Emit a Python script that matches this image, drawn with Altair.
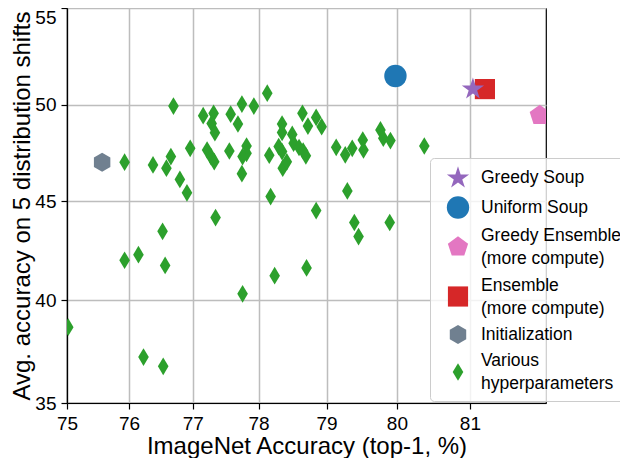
import math
import altair as alt
import pandas as pd

FONT = "Liberation Sans, Arial, sans-serif"

# ---- data (percent) ----
various_x = [76.70, 77.16, 77.32, 77.29, 77.34, 77.58, 77.69, 77.75, 77.93, 78.13,
             76.96, 75.93, 76.38, 76.66, 76.59, 76.80, 76.91, 77.22, 77.28, 77.33,
             77.56, 77.82, 77.82, 77.76, 77.75, 78.16, 78.18, 78.35, 78.35, 78.30,
             78.35, 78.36, 78.42, 78.50, 78.52, 78.60, 78.66, 78.70, 78.65, 78.73,
             78.85, 78.93, 79.14, 79.27, 79.37, 79.52, 79.53, 79.77, 79.81, 79.91,
             80.38, 78.85, 79.30, 79.40, 79.46, 79.90, 77.35, 76.53, 75.93, 76.15,
             76.57, 77.76, 78.24, 78.71, 75.02, 76.23, 76.54]
various_y = [49.93, 49.43, 49.55, 49.03, 48.55, 49.51, 49.00, 50.03, 49.93, 50.60,
             47.74, 47.02, 46.88, 47.31, 46.71, 46.13, 45.44, 47.65, 47.31, 47.05,
             47.60, 47.86, 47.48, 47.31, 46.43, 47.38, 45.25, 49.00, 48.56, 47.83,
             47.57, 46.71, 47.04, 48.46, 48.00, 47.78, 47.60, 47.35, 49.55, 48.89,
             49.34, 48.86, 47.79, 47.40, 47.74, 48.17, 47.65, 48.69, 48.26, 48.14,
             47.86, 44.53, 45.54, 43.92, 43.20, 43.92, 44.17, 43.47, 42.00, 42.28,
             41.74, 40.31, 41.22, 41.61, 38.66, 37.20, 36.75]

initialization = [75.57, 47.02]
greedy_ensemble = [81.92, 49.45]
ensemble = [81.20, 50.81]
uniform_soup = [79.98, 51.49]
greedy_soup = [81.04, 50.81]

categories = ["Greedy Soup", "Uniform Soup", "Greedy Ensemble|(more compute)",
              "Ensemble|(more compute)", "Initialization", "Various|hyperparameters"]
colors = ["#9467bd", "#1f77b4", "#e377c2", "#d62728", "#708090", "#2ca02c"]

x_ticks = [75, 76, 77, 78, 79, 80, 81]
y_ticks = [35, 40, 45, 50, 55]
x_limits = [75, 82]
y_limits = [35, 55]

STAR = ("M0,-1L0.2245,-0.309L0.951,-0.309L0.3633,0.118L0.588,0.809L0,0.382"
        "L-0.588,0.809L-0.3633,0.118L-0.951,-0.309L-0.2245,-0.309Z")
PENT = "M0,-1L0.951,-0.309L0.588,0.809L-0.588,0.809L-0.951,-0.309Z"
HEX = "M0,-1L0.866,-0.5L0.866,0.5L0,1L-0.866,0.5L-0.866,-0.5Z"
DIAM = "M0,-1L0.6,0L0,1L-0.6,0Z"
shapes = [STAR, "circle", PENT, "square", HEX, DIAM]
sizes = [548, 313, 475, 282, 416, 256]

rows = [{"cat": categories[5], "acc": a, "rob": r} for a, r in zip(various_x, various_y)]
rows.append({"cat": categories[4], "acc": initialization[0], "rob": initialization[1]})
rows.append({"cat": categories[2], "acc": greedy_ensemble[0], "rob": greedy_ensemble[1]})
rows.append({"cat": categories[3], "acc": ensemble[0], "rob": ensemble[1]})
rows.append({"cat": categories[1], "acc": uniform_soup[0], "rob": uniform_soup[1]})
rows.append({"cat": categories[0], "acc": greedy_soup[0], "rob": greedy_soup[1]})
df = pd.DataFrame(rows)


def logit(p):
    return math.log(p / (100 - p))


label_expr = "format(100/(1+exp(-datum.value)), '.0f')"

legend = alt.Legend(
    title=None, orient="none", legendX=363, legendY=150,
    fillColor="rgba(255,255,255,0.8)", strokeColor="#cccccc", cornerRadius=4,
    padding=8, labelFont=FONT, labelFontSize=17.5, labelColor="black",
    labelExpr="split(datum.label, '|')", labelLimit=400, rowPadding=8,
    symbolOffset=8, labelOffset=11, symbolStrokeWidth=0,
    labelBaseline={"expr": "indexof(datum.label, '|') >= 0 ? 'line-bottom' : 'middle'"},
)

chart = alt.Chart(df).transform_calculate(
    lx="log(datum.acc/(100-datum.acc))",
    ly="log(datum.rob/(100-datum.rob))",
).mark_point(filled=True, opacity=1, clip=True, strokeWidth=0).encode(
    x=alt.X("lx:Q",
            scale=alt.Scale(domain=[logit(v) for v in x_limits], nice=False, zero=False),
            axis=alt.Axis(values=[logit(v) for v in x_ticks], labelExpr=label_expr,
                          title="ImageNet Accuracy (top-1, %)", labelFlush=False,
                          labelPadding=5,
                          titleBaseline="alphabetic", titleY=50, titleX=239.5)),
    y=alt.Y("ly:Q",
            scale=alt.Scale(domain=[logit(v) for v in y_limits], nice=False, zero=False),
            axis=alt.Axis(values=[logit(v) for v in y_ticks], labelExpr=label_expr,
                          title="Avg. accuracy on 5 distribution shifts",
                          titleBaseline="alphabetic", titleX=-38, titleY=197.5,
                          labelBaseline={"condition": {"test": "datum.value > 0.19", "value": "top"},
                                         "value": "middle"})),
    color=alt.Color("cat:N", scale=alt.Scale(domain=categories, range=colors), legend=legend),
    shape=alt.Shape("cat:N", scale=alt.Scale(domain=categories, range=shapes), legend=legend),
    size=alt.Size("cat:N", scale=alt.Scale(domain=categories, range=sizes), legend=legend),
).properties(
    width=479, height=395,
    autosize=alt.AutoSizeParams(type="none"),
    padding={"left": 59, "top": 0, "right": 74, "bottom": 55},
).configure(
    style={"guide-label": {"lineHeight": 23}}
).configure_view(
    stroke="black", strokeWidth=1.2
).configure_axis(
    domainColor="black", domainWidth=1.2, tickColor="black", tickWidth=1.2, tickSize=6,
    gridColor="#bdbdbd", gridWidth=1.5, labelFont=FONT, labelFontSize=19, labelColor="black",
    labelPadding=5, titleFont=FONT, titleFontSize=24, titleFontWeight="normal", titleColor="black",
)

chart.save("out.html", embed_options={"renderer": "svg", "actions": False})
